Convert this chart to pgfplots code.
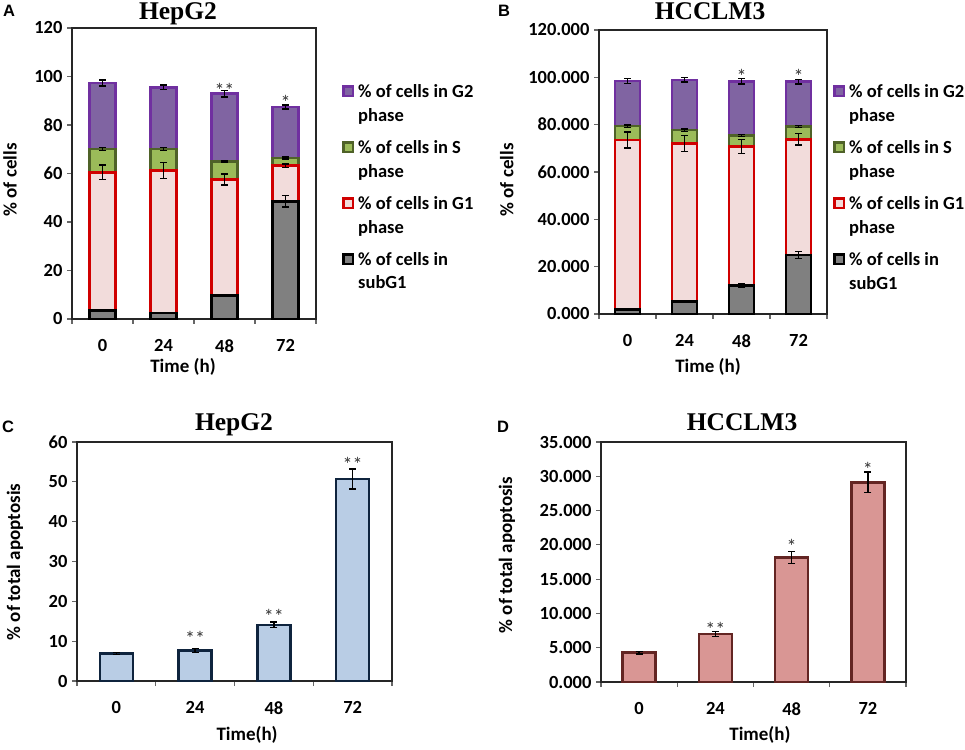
\documentclass[border=0pt]{standalone}
\usepackage{fontspec}
\setmainfont{Carlito}
\newfontfamily\serifb{Liberation Serif}
\newfontfamily\arialf{Liberation Sans}
\usepackage{pgfplots}
\usepackage{pgfplotstable}
\pgfplotsset{compat=1.18}

\definecolor{gtwofill}{HTML}{8064A2}
\definecolor{gtwodraw}{HTML}{7030A0}
\definecolor{sfill}{HTML}{9BBB59}
\definecolor{sdraw}{HTML}{4F6228}
\definecolor{gonefill}{HTML}{F2DCDB}
\definecolor{gonedraw}{HTML}{D00000}
\definecolor{subfill}{HTML}{808080}
\definecolor{cfill}{HTML}{B9CDE5}
\definecolor{cdraw}{HTML}{0F243E}
\definecolor{dfill}{HTML}{D99694}
\definecolor{ddraw}{HTML}{632523}

\pgfplotstableread{
x sub esub gone egone s es gtwo egtwo
0 3.6 0.3 56.9 3.0 9.6 0.5 27.2 1.2
1 2.5 0.3 58.7 3.2 9.0 0.6 25.3 1.0
2 9.6 0.3 47.9 2.3 7.5 0.3 27.9 1.3
3 48.5 2.3 14.7 0.7 3.2 0.4 21.0 0.8
}\dataA

\pgfplotstableread{
x sub esub gone egone s es gtwo egtwo
0 2.0 0.3 71.5 3.4 5.9 0.5 19.1 1.0
1 5.2 0.4 66.9 3.3 5.6 0.5 21.2 0.9
2 12.0 0.7 58.7 2.9 4.8 0.4 22.8 1.1
3 24.9 1.4 48.9 2.4 5.4 0.4 19.0 1.0
}\dataB

\pgfplotstableread{
x y ey
0 6.9 0.3
1 7.6 0.5
2 14.1 0.7
3 50.7 2.5
}\dataC

\pgfplotstableread{
x y ey
0 4.27 0.2
1 6.98 0.35
2 18.18 0.9
3 29.13 1.5
}\dataD

% legend key square (text box) and legend lines
\newcommand{\sq}[2]{{\setlength{\fboxrule}{2.5pt}\setlength{\fboxsep}{0pt}%
  \raisebox{3pt}{\fcolorbox{#1}{#2}{\rule{0pt}{7pt}\rule{7pt}{0pt}}}}}
\newcommand{\la}[3]{\rule[-10.5pt]{0pt}{1pt}\sq{#1}{#2}\hspace{4pt}#3}
\newcommand{\lb}[1]{\rule[-19.5pt]{0pt}{1pt}\hspace{16pt}#1}

\tikzset{astx/.style={font=\fontsize{20}{22}\selectfont, black!80, anchor=base}}

\pgfplotsset{
  panel/.style={scale only axis, anchor=south west, xmin=-0.5, xmax=3.5, ymin=0,
    tick pos=left, tick align=outside, major tick length=5pt,
    xtick={-0.5,0.5,1.5,2.5,3.5}, xticklabels={},
    extra x ticks={0,1,2,3}, extra x tick labels={0,24,48,72},
    extra x tick style={tick style={draw=none}, xticklabel style={yshift=-7pt}},
    tick label style={font=\fontsize{18.5}{21}\selectfont\bfseries},
    xticklabel style={yshift=-5pt},
    yticklabel style={xshift=-1pt},
    label style={font=\fontsize{19}{22}\selectfont\bfseries},
    /pgf/number format/assume math mode=true,
    axis line style={line width=1.2pt, black!85},
    tick style={line width=1.1pt, black!60},
    clip=false},
  errstyle/.style={error bars/.cd, y dir=both, y explicit,
    error bar style={line width=1.3pt, black},
    error mark options={rotate=90, mark size=3.5pt, line width=1.3pt, black}},
  stackleg/.style={
    legend style={draw=none, fill=none, anchor=north west, inner sep=0pt,
      font=\fontsize{18.5}{23}\selectfont\bfseries,
      nodes={inner sep=0pt, text depth=},
      cells={anchor=base west}, row sep=0pt, column sep=0pt}},
}

\newcommand{\stacklegend}{%
\addlegendimage{empty legend}
\addlegendentry{\la{gtwodraw}{gtwofill}{\% of cells in G2}}
\addlegendimage{empty legend}
\addlegendentry{\lb{phase}}
\addlegendimage{empty legend}
\addlegendentry{\la{sdraw}{sfill}{\% of cells in S}}
\addlegendimage{empty legend}
\addlegendentry{\lb{phase}}
\addlegendimage{empty legend}
\addlegendentry{\la{gonedraw}{gonefill}{\% of cells in G1}}
\addlegendimage{empty legend}
\addlegendentry{\lb{phase}}
\addlegendimage{empty legend}
\addlegendentry{\la{black}{subfill}{\% of cells in}}
\addlegendimage{empty legend}
\addlegendentry{\lb{subG1}}
}

\begin{document}
\begin{tikzpicture}

% ---------- A ----------
\begin{axis}[panel, stackleg, at={(72pt,430pt)}, width=244pt, height=291pt,
  ymax=120, ytick={0,20,...,120}, ybar stacked, bar width=26pt,
  xlabel={Time (h)}, ylabel={\% of cells},
  xlabel style={at={(axis description cs:0.455,-0.165)}, anchor=center},
  ylabel style={at={(axis description cs:-0.254,0.478)}, anchor=center},
  legend style={at={(axis description cs:1.1066,0.806)}}]
\stacklegend
\addplot[fill=subfill, draw=black, line width=2.5pt, errstyle] table[x=x,y=sub,y error=esub]{\dataA};
\addplot[fill=gonefill, draw=gonedraw, line width=2.5pt, errstyle] table[x=x,y=gone,y error=egone]{\dataA};
\addplot[fill=sfill, draw=sdraw, line width=2.5pt, errstyle] table[x=x,y=s,y error=es]{\dataA};
\addplot[fill=gtwofill, draw=gtwodraw, line width=2.5pt, errstyle] table[x=x,y=gtwo,y error=egtwo]{\dataA};
\node[astx] at (axis cs:2,91.4) {**};
\node[astx] at (axis cs:3,86.2) {*};
\end{axis}

% ---------- B ----------
\begin{axis}[panel, stackleg, at={(599pt,435pt)}, width=228pt, height=284pt,
  ymax=120, ytick={0,20,...,120}, ybar stacked, bar width=25pt,
  yticklabel style={/pgf/number format/fixed, /pgf/number format/fixed zerofill, /pgf/number format/precision=3},
  xlabel={Time (h)}, ylabel={\% of cells},
  xlabel style={at={(axis description cs:0.478,-0.187)}, anchor=center},
  ylabel style={at={(axis description cs:-0.404,0.472)}, anchor=center},
  legend style={at={(axis description cs:1.026,0.808)}}]
\stacklegend
\addplot[fill=subfill, draw=black, line width=2.5pt, errstyle] table[x=x,y=sub,y error=esub]{\dataB};
\addplot[fill=gonefill, draw=gonedraw, line width=2.5pt, errstyle] table[x=x,y=gone,y error=egone]{\dataB};
\addplot[fill=sfill, draw=sdraw, line width=2.5pt, errstyle] table[x=x,y=s,y error=es]{\dataB};
\addplot[fill=gtwofill, draw=gtwodraw, line width=2.5pt, errstyle] table[x=x,y=gtwo,y error=egtwo]{\dataB};
\node[astx] at (axis cs:2,97.3) {*};
\node[astx] at (axis cs:3,97.3) {*};
\end{axis}

% ---------- C ----------
\begin{axis}[panel, at={(77pt,68pt)}, width=315pt, height=239pt,
  ymax=60, ytick={0,10,...,60}, ybar, bar width=33pt,
  xlabel={Time(h)}, ylabel={\% of total apoptosis},
  xlabel style={at={(axis description cs:0.540,-0.226)}, anchor=center},
  ylabel style={at={(axis description cs:-0.197,0.498)}, anchor=center}]
\addplot[fill=cfill, draw=cdraw, line width=2.5pt, errstyle] table[x=x,y=y,y error=ey]{\dataC};
\node[astx] at (axis cs:1,8.8) {**};
\node[astx] at (axis cs:2,14.4) {**};
\node[astx] at (axis cs:3,52.7) {**};
\end{axis}

% ---------- D ----------
\begin{axis}[panel, at={(601pt,67pt)}, width=305pt, height=240pt,
  ymax=35, ytick={0,5,...,35}, ybar, bar width=33pt,
  yticklabel style={/pgf/number format/fixed, /pgf/number format/fixed zerofill, /pgf/number format/precision=3},
  xlabel={Time(h)}, ylabel={\% of total apoptosis},
  xlabel style={at={(axis description cs:0.521,-0.221)}, anchor=center},
  ylabel style={at={(axis description cs:-0.308,0.529)}, anchor=center}]
\addplot[fill=dfill, draw=ddraw, line width=2.5pt, errstyle] table[x=x,y=y,y error=ey]{\dataD};
\node[astx] at (axis cs:1,6.7) {**};
\node[astx] at (axis cs:2,18.7) {*};
\node[astx] at (axis cs:3,30.0) {*};
\end{axis}

% ---------- titles and panel letters ----------
\node[anchor=base, font=\serifb\bfseries\fontsize{25.5}{28}\selectfont] at (178pt,729pt) {HepG2};
\node[anchor=base, font=\serifb\bfseries\fontsize{25.5}{28}\selectfont] at (710pt,729pt) {HCCLM3};
\node[anchor=base, font=\serifb\bfseries\fontsize{25.5}{28}\selectfont] at (234pt,318pt) {HepG2};
\node[anchor=base, font=\serifb\bfseries\fontsize{25.5}{28}\selectfont] at (742pt,318pt) {HCCLM3};
\node[anchor=base west, inner sep=0pt, font=\arialf\bfseries\fontsize{16.5}{18}\selectfont] at (3pt,732pt) {A};
\node[anchor=base west, inner sep=0pt, font=\arialf\bfseries\fontsize{16.5}{18}\selectfont] at (498pt,732pt) {B};
\node[anchor=base west, inner sep=0pt, font=\arialf\bfseries\fontsize{16.5}{18}\selectfont] at (2pt,316pt) {C};
\node[anchor=base west, inner sep=0pt, font=\arialf\bfseries\fontsize{16.5}{18}\selectfont] at (497pt,316pt) {D};

\pgfresetboundingbox
\path[use as bounding box] (0,0) rectangle (965pt,749pt);
\end{tikzpicture}
\end{document}
